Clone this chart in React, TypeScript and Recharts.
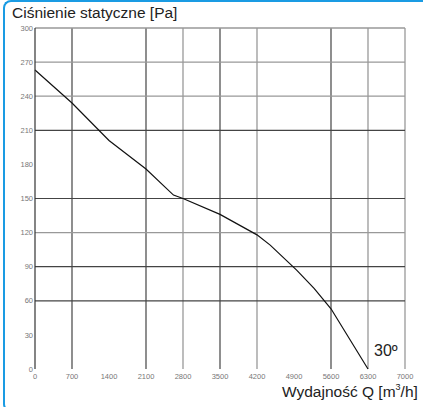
import { LineChart, Line, XAxis, YAxis, ReferenceLine } from "recharts"

// flow Q [m3/h] vs static pressure [Pa], 30° curve
const flow = [0, 700, 1400, 2100, 2620, 2800, 3500, 4200, 4450, 4950, 5280, 5600, 6300]
const pressure = [263, 234, 201, 176, 153, 150, 136, 118, 109, 87, 71, 53, 0]

const xTicks = [0, 700, 1400, 2100, 2800, 3500, 4200, 4900, 5600, 6300, 7000]
const yTicks = [0, 30, 60, 90, 120, 150, 180, 210, 240, 270, 300]

// the scanned grid skips some lines and has mixed shades
const gridXDark = [700, 2100, 3500, 5600]
const gridXLight = [2800, 4200, 6300, 7000]
const gridYDark = [210, 150, 90, 60]
const gridYLight = [300, 270, 240, 120]

const data = flow.map((q, i) => ({ q, p: pressure[i] }))

const tickStyle = { fontSize: 7.5, fill: "#777", fontFamily: "Liberation Sans, Arial, sans-serif" }

export default function App() {
  return (
    <div
      style={{
        position: "fixed",
        left: 0,
        top: 0,
        width: 423,
        height: 407,
        overflow: "hidden",
        background: "#fff",
        fontFamily: "Liberation Sans, Arial, sans-serif",
      }}
    >
      <div
        style={{
          position: "absolute",
          left: 3,
          top: 0,
          width: 440,
          height: 408,
          borderLeft: "2px solid #1a9be3",
          borderTop: "2px solid #1a9be3",
          borderBottom: "2px solid #1a9be3",
          borderRadius: 8,
        }}
      />
      <div style={{ position: "absolute", left: 12, top: 4, fontSize: 15.5, color: "#222" }}>
        Ciśnienie statyczne [Pa]
      </div>
      <div style={{ position: "absolute", left: 374, top: 342, fontSize: 16, color: "#222" }}>30º</div>
      <div style={{ position: "absolute", left: 282, top: 382, fontSize: 15.5, color: "#222" }}>
        Wydajność Q [m<sup style={{ fontSize: 9, verticalAlign: 7 }}>3</sup>/h]
      </div>
      <LineChart
        width={423}
        height={407}
        data={data}
        margin={{ top: 28, right: 18, left: 8, bottom: 18 }}
        style={{ position: "absolute", left: 0, top: 0 }}
      >
        <XAxis
          dataKey="q"
          type="number"
          domain={[0, 7000]}
          ticks={xTicks}
          interval={0}
          axisLine={false}
          tickLine={false}
          tickSize={0}
          tickMargin={5}
          height={20}
          tick={tickStyle}
        />
        <YAxis
          type="number"
          domain={[0, 300]}
          ticks={yTicks}
          interval={0}
          width={27}
          axisLine={{ stroke: "#333", strokeWidth: 1.2 }}
          tickLine={false}
          tickSize={0}
          tickMargin={2}
          tick={tickStyle}
        />
        {gridXDark.map((v) => (
          <ReferenceLine key={"xd" + v} x={v} stroke="#444" strokeWidth={1.2} />
        ))}
        {gridXLight.map((v) => (
          <ReferenceLine key={"xl" + v} x={v} stroke="#999" strokeWidth={1.3} />
        ))}
        {gridYDark.map((v) => (
          <ReferenceLine key={"yd" + v} y={v} stroke="#444" strokeWidth={1.2} />
        ))}
        {gridYLight.map((v) => (
          <ReferenceLine key={"yl" + v} y={v} stroke="#999" strokeWidth={1.3} />
        ))}
        <Line
          type="linear"
          dataKey="p"
          stroke="#111"
          strokeWidth={1.2}
          dot={false}
          isAnimationActive={false}
        />
      </LineChart>
    </div>
  )
}
